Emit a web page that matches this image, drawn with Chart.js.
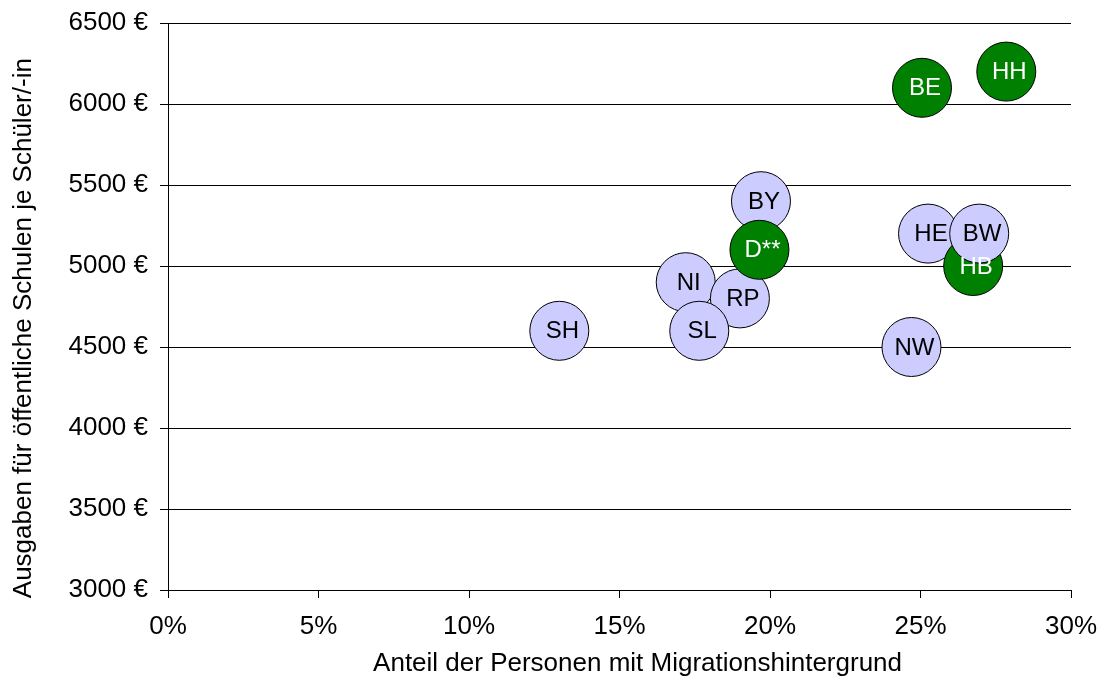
<!DOCTYPE html>
<html>
<head>
<meta charset="utf-8">
<script src="https://cdn.jsdelivr.net/npm/chart.js@4/dist/chart.umd.min.js"></script>
<style>
  html, body { margin: 0; padding: 0; background: #fff; }
  #wrap { width: 1101px; height: 679px; }
</style>
</head>
<body>
<div id="wrap"><canvas id="chart" width="1101" height="679"></canvas></div>
<script>
// Länder, drawn in this order (later ones lie on top)
const laender = ["NI", "RP", "SL", "SH", "BY", "D**", "NW", "HE", "HB", "BW", "BE", "HH"];
// Anteil der Personen mit Migrationshintergrund (%)
const anteil = [17.2, 19.0, 17.65, 13.0, 19.7, 19.65, 24.7, 25.25, 26.75, 26.95, 25.05, 27.85];
// Ausgaben je Schüler/-in (€)
const ausgaben = [4900, 4800, 4600, 4600, 5400, 5100, 4500, 5200, 5000, 5200, 6100, 6200];
// 1 = highlighted (green)
const hervor = [0, 0, 0, 0, 0, 1, 0, 0, 1, 0, 1, 1];

const xTicks = [0, 5, 10, 15, 20, 25, 30];
const yTicks = [3000, 3500, 4000, 4500, 5000, 5500, 6000, 6500];

const FONT = "'Liberation Sans', Arial, sans-serif";
const GREEN = "#008000";
const LAV = "#CCCCFF";
const NBSP = "\u00A0";

const points = laender.map((l, i) => ({ x: anteil[i], y: ausgaben[i], r: 29.5 }));

// labels inside the bubbles
const bubbleLabels = {
  id: "bubbleLabels",
  afterDatasetsDraw(chart) {
    const ctx = chart.ctx;
    const meta = chart.getDatasetMeta(0);
    ctx.save();
    ctx.font = "24px " + FONT;
    ctx.textAlign = "center";
    ctx.textBaseline = "middle";
    meta.data.forEach((el, i) => {
      ctx.fillStyle = hervor[i] ? "#fff" : "#000";
      ctx.fillText(laender[i], el.x + 3, el.y + 1);
    });
    ctx.restore();
  }
};

new Chart(document.getElementById("chart"), {
  type: "bubble",
  data: {
    datasets: [{
      data: points,
      backgroundColor: hervor.map(h => h ? GREEN : LAV),
      borderColor: "#000",
      borderWidth: 1,
      clip: false
    }]
  },
  options: {
    responsive: false,
    animation: false,
    events: [],
    layout: { autoPadding: false, padding: { top: 23, right: 30, left: 0, bottom: 0 } },
    plugins: { legend: { display: false }, tooltip: { enabled: false } },
    scales: {
      x: {
        type: "linear",
        min: 0, max: 30,
        afterBuildTicks: s => { s.ticks = xTicks.map(v => ({ value: v })); },
        afterFit: s => { s.height = 89; s.paddingLeft = 0; s.paddingRight = 0; },
        ticks: {
          callback: v => v + "%",
          color: "#000",
          font: { family: FONT, size: 26 },
          padding: 13,
          maxRotation: 0
        },
        grid: { drawOnChartArea: false, drawTicks: true, tickLength: 8, color: "#000" },
        border: { color: "#000", width: 1 },
        title: {
          display: true,
          text: NBSP.repeat(5) + "Anteil der Personen mit Migrationshintergrund",
          color: "#000",
          font: { family: FONT, size: 26 },
          padding: { top: 6, bottom: 0 }
        }
      },
      y: {
        type: "linear",
        min: 3000, max: 6500,
        afterBuildTicks: s => { s.ticks = yTicks.map(v => ({ value: v })); },
        afterFit: s => { s.width = 168; s.paddingTop = 0; s.paddingBottom = 0; },
        ticks: {
          callback: v => v + " €",
          color: "#000",
          font: { family: FONT, size: 26 },
          padding: 12
        },
        grid: { color: "#000", lineWidth: 1, drawTicks: true, tickLength: 8 },
        border: { color: "#000", width: 1 },
        title: {
          display: true,
          text: "Ausgaben für öffentliche Schulen je Schüler/-in" + NBSP.repeat(6),
          color: "#000",
          font: { family: FONT, size: 26 },
          padding: { top: 8, bottom: 0 }
        }
      }
    }
  },
  plugins: [bubbleLabels]
});
</script>
</body>
</html>
